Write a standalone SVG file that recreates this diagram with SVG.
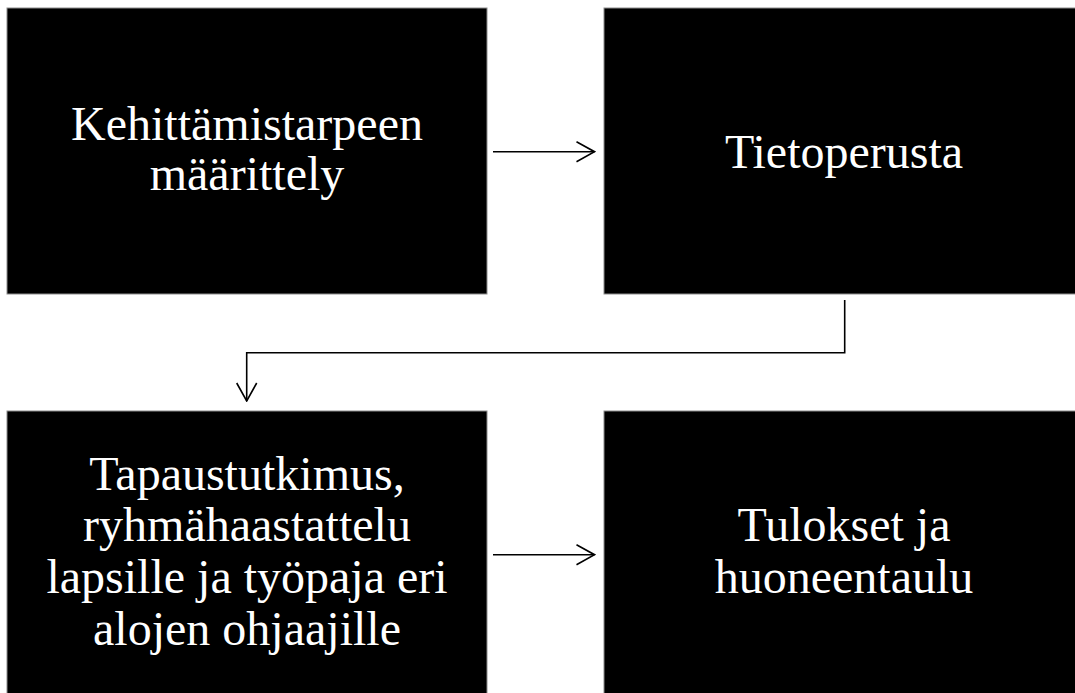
<svg xmlns="http://www.w3.org/2000/svg" width="1075" height="693" viewBox="0 0 1075 693">
<defs>
<style>
.box{fill:#000;stroke:#8c8c8c;stroke-width:1}
.t{fill:#fff;font-family:"Liberation Serif","Times New Roman",serif;font-size:48px;text-anchor:middle}
.c{fill:none;stroke:#000;stroke-width:1.6}
</style>
<marker id="ah" viewBox="0 0 20 22" refX="19" refY="11" markerWidth="20" markerHeight="22" markerUnits="userSpaceOnUse" orient="auto">
<path d="M1,1 L19,11 L1,21" fill="none" stroke="#000" stroke-width="1.6"/>
</marker>
</defs>
<rect width="1075" height="693" fill="#fff"/>
<g id="node1">
<rect class="box" x="7" y="8" width="480" height="286"/>
<text class="t" x="247" y="140">Kehittämistarpeen</text>
<text class="t" x="247" y="190">määrittely</text>
</g>
<g id="node2">
<rect class="box" x="604" y="8" width="480" height="286"/>
<text class="t" x="844" y="168">Tietoperusta</text>
</g>
<g id="node3">
<rect class="box" x="7" y="411" width="480" height="290"/>
<text class="t" x="247" y="490">Tapaustutkimus,</text>
<text class="t" x="247" y="541">ryhmähaastattelu</text>
<text class="t" x="247" y="593">lapsille ja työpaja eri</text>
<text class="t" x="247" y="645">alojen ohjaajille</text>
</g>
<g id="node4">
<rect class="box" x="604" y="411" width="480" height="290"/>
<text class="t" x="844" y="541">Tulokset ja</text>
<text class="t" x="844" y="593">huoneentaulu</text>
</g>
<g id="connectors">
<path class="c" d="M493,151.7 L594.5,151.7" marker-end="url(#ah)"/>
<path class="c" d="M844.7,300 L844.7,352.7 L246.7,352.7 L246.7,401" marker-end="url(#ah)"/>
<path class="c" d="M493,554.7 L594.5,554.7" marker-end="url(#ah)"/>
</g>
</svg>
